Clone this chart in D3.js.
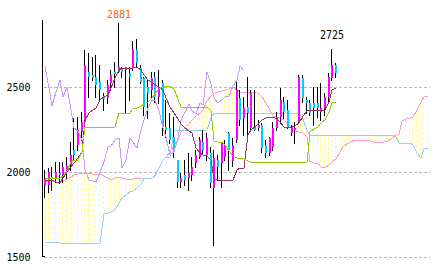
<!DOCTYPE html>
<html>
<head>
<meta charset="utf-8">
<script src="https://cdn.jsdelivr.net/npm/d3@7"></script>
<style>
    body { margin: 0; background: #fff; }
    svg { display: block; }
    .tick-label, .peak-label { font-family: "DejaVu Sans Mono", monospace; font-size: 10px; }
</style>
</head>
<body>
<div id="chart"></div>
<script>
// Daily candles (80 sessions), price in yen
var open = [1925, 1925, 1972, 1961, 1996, 1984, 2002, 2043, 2131, 2161,
    2237, 2296, 2590, 2572, 2560, 2531, 2449, 2437, 2525, 2590,
    2590, 2613, 2602, 2578, 2613, 2719, 2613, 2555, 2502, 2484,
    2560, 2443, 2525, 2266, 2261, 2208, 2072, 1943, 1984, 1966,
    1984, 2055, 2090, 2178, 2102, 2114, 1908, 2072, 2055, 2090,
    2231, 2066, 2190, 2437, 2319, 2384, 2261, 2266, 2261, 2278,
    2161, 2114, 2149, 2261, 2325, 2413, 2366, 2231, 2249, 2296,
    2555, 2425, 2408, 2408, 2408, 2355, 2378, 2443, 2555, 2631];
var high = [2014, 2025, 2031, 2061, 2061, 2061, 2090, 2178, 2319, 2325,
    2355, 2719, 2702, 2678, 2690, 2631, 2466, 2543, 2602, 2649,
    2881, 2619, 2619, 2619, 2772, 2784, 2631, 2560, 2543, 2590,
    2590, 2602, 2543, 2425, 2349, 2325, 2072, 1996, 2072, 2114,
    2090, 2131, 2208, 2249, 2231, 2149, 2131, 2102, 2178, 2190,
    2237, 2200, 2543, 2484, 2443, 2560, 2484, 2484, 2308, 2290,
    2190, 2208, 2296, 2355, 2496, 2443, 2425, 2278, 2296, 2572,
    2572, 2443, 2425, 2502, 2502, 2525, 2466, 2584, 2725, 2643];
var low = [1855, 1884, 1896, 1943, 1937, 1943, 1966, 2014, 2072, 2131,
    2190, 2278, 2443, 2543, 2443, 2425, 2366, 2408, 2484, 2502,
    2590, 2560, 2349, 2425, 2602, 2619, 2525, 2337, 2319, 2437,
    2413, 2408, 2219, 2208, 2172, 2090, 1914, 1914, 1925, 1896,
    1955, 2031, 2084, 2114, 2072, 1914, 1572, 1955, 1914, 2072,
    2014, 2040, 2178, 2278, 2219, 2208, 2249, 2249, 2249, 2119,
    2090, 2102, 2131, 2249, 2290, 2319, 2261, 2219, 2172, 2290,
    2413, 2349, 2337, 2278, 2325, 2308, 2337, 2408, 2543, 2560];
var close = [1961, 2002, 1961, 2002, 1984, 2031, 2037, 2102, 2102, 2249,
    2296, 2625, 2560, 2555, 2513, 2484, 2431, 2513, 2572, 2578,
    2619, 2590, 2619, 2560, 2719, 2643, 2531, 2384, 2466, 2555,
    2443, 2502, 2266, 2249, 2190, 2119, 1943, 1966, 1955, 1996,
    2031, 2102, 2190, 2131, 2202, 1937, 2084, 2031, 2172, 2161,
    2131, 2160, 2484, 2308, 2378, 2349, 2466, 2249, 2278, 2143,
    2114, 2202, 2261, 2325, 2425, 2355, 2266, 2266, 2261, 2560,
    2437, 2408, 2349, 2378, 2378, 2378, 2443, 2560, 2631, 2584];

// Conversion line (tenkan) and base line (kijun)
var tenkan = [1955, 1955, 1955, 1943, 1937, 1966, 2002, 2031, 2055, 2084,
    2119, 2308, 2349, 2366, 2378, 2425, 2443, 2455, 2496, 2555,
    2602, 2613, 2613, 2613, 2613, 2619, 2602, 2572, 2543, 2531,
    2513, 2502, 2484, 2437, 2384, 2349, 2313, 2284, 2261, 2243,
    2231, 2143, 2114, 2102, 2096, 2072, 1961, 1955, 1955, 1955,
    1955, 1955, 2014, 2025, 2025, 2219, 2249, 2266, 2290, 2308,
    2319, 2325, 2325, 2313, 2290, 2266, 2266, 2266, 2272, 2290,
    2331, 2360, 2366, 2366, 2366, 2366, 2366, 2413, 2484, 2496];
var kijun = [1966, 1966, 1966, 1966, 1966, 1978, 2008, 2061, 2072, 2072,
    2119, 2266, 2266, 2266, 2266, 2266, 2266, 2266, 2266, 2266,
    2349, 2349, 2349, 2349, 2372, 2378, 2390, 2402, 2413, 2437,
    2461, 2490, 2502, 2508, 2508, 2490, 2431, 2384, 2384, 2384,
    2384, 2384, 2384, 2384, 2384, 2360, 2184, 2178, 2178, 2161,
    2125, 2096, 2084, 2084, 2078, 2066, 2060, 2060, 2060, 2060,
    2060, 2060, 2060, 2060, 2060, 2060, 2060, 2060, 2060, 2060,
    2060, 2060, 2237, 2255, 2266, 2290, 2308, 2355, 2408, 2413];

// Lagging span, plotted from the first slot
var lagging = [2625, 2496, 2390, 2472, 2543, 2443, 2502, 2366, 2261, 2243,
    2190, 2014, 1955, 1949, 1943, 2002, 2061, 2149, 2155, 2190,
    2202, 2025, 2072, 2202, 2178, 2143, 2249, 2308, 2378, 2425,
    2419, 2360, 2261, 2208, 2102, 2119, 2202, 2308, 2355, 2402,
    2360, 2343, 2408, 2396, 2590, 2519, 2437, 2408, 2425, 2443,
    2449, 2508, 2543, 2625, 2596];

// Leading spans A and B (105 slots, 25 beyond the last candle)
var spanA = [1949, 1949, 1949, 1943, 1943, 1949, 1961, 1972, 1984, 1990,
    1993, 1993, 1993, 1990, 1990, 1990, 1978, 1966, 1955, 1966,
    1972, 1966, 1961, 1961, 1961, 1964, 1961, 1966, 1966, 1966,
    1984, 2025, 2072, 2090, 2119, 2161, 2190, 2237, 2261, 2284,
    2308, 2331, 2349, 2366, 2419, 2449, 2466, 2472, 2478, 2484,
    2490, 2502, 2484, 2475, 2474, 2472, 2472, 2472, 2461, 2443,
    2408, 2366, 2334, 2328, 2319, 2308, 2284, 2261, 2243, 2237,
    2231, 2208, 2066, 2055, 2046, 2034, 2025, 2043, 2061, 2078,
    2119, 2149, 2166, 2178, 2190, 2190, 2190, 2190, 2190, 2178,
    2178, 2178, 2178, 2184, 2196, 2214, 2225, 2302, 2313, 2319,
    2325, 2366, 2413, 2443, 2449];
var spanB = [1590, 1590, 1590, 1590, 1584, 1584, 1584, 1584, 1584, 1584,
    1584, 1584, 1584, 1584, 1584, 1584, 1755, 1761, 1766, 1778,
    1819, 1849, 1866, 1884, 1890, 1908, 1931, 1961, 1966, 1966,
    1978, 2025, 2072, 2090, 2090, 2243, 2249, 2249, 2249, 2249,
    2249, 2249, 2249, 2249, 2249, 2319, 2349, 2349, 2349, 2349,
    2349, 2349, 2349, 2349, 2349, 2349, 2349, 2349, 2349, 2349,
    2349, 2349, 2349, 2349, 2349, 2349, 2349, 2349, 2349, 2349,
    2313, 2249, 2219, 2219, 2219, 2219, 2219, 2219, 2219, 2219,
    2219, 2219, 2219, 2219, 2219, 2219, 2219, 2219, 2219, 2219,
    2219, 2219, 2219, 2219, 2219, 2219, 2172, 2172, 2172, 2172,
    2161, 2114, 2084, 2137, 2143];

var yTicks = [1500, 2000, 2500];
var slotCount = 105;

var width = 434, height = 270;

var svg = d3.select("#chart")
    .append("svg")
    .attr("width", width)
    .attr("height", height);

svg.append("rect")
    .attr("width", width)
    .attr("height", height)
    .attr("fill", "#fff");

var x = d3.scaleLinear().domain([0, slotCount]).range([43, 430]);
var y = d3.scaleLinear().domain([1500, 2500]).range([257.3, 87.3]);

// pixel column of a slot centre
function col(i) {
    return Math.round(x(i + 0.5));
}
function row(v) {
    return Math.round(y(v));
}

// Grid lines
svg.selectAll(".grid")
    .data(yTicks)
    .enter()
    .append("line")
    .attr("class", "grid")
    .attr("x1", 44)
    .attr("x2", 430)
    .attr("y1", function(d) { return row(d) + 0.5; })
    .attr("y2", function(d) { return row(d) + 0.5; })
    .attr("stroke", "#b8b8b8")
    .attr("stroke-dasharray", "3,2")
    .attr("shape-rendering", "crispEdges");

// Cloud shading: dashed yellow verticals between the spans
svg.selectAll(".cloud")
    .data(spanA)
    .enter()
    .append("line")
    .attr("class", "cloud")
    .attr("x1", function(d, i) { return col(i) - 0.5; })
    .attr("x2", function(d, i) { return col(i) - 0.5; })
    .attr("y1", function(d) { return row(d); })
    .attr("y2", function(d, i) { return row(spanB[i]); })
    .attr("stroke", "#ffff80")
    .attr("stroke-dasharray", "3,2")
    .attr("shape-rendering", "crispEdges");

function linePath(data) {
    return d3.line()
        .x(function(d, i) { return col(i); })
        .y(function(d) { return row(d); })(data);
}

function drawLine(data, color) {
    svg.append("path")
        .attr("d", linePath(data))
        .attr("fill", "none")
        .attr("stroke", color)
        .attr("stroke-width", 1)
        .attr("shape-rendering", "crispEdges");
}

drawLine(spanA, "#ff99cc");
drawLine(spanB, "#99ccff");

// Candles
var candles = svg.append("g");

candles.selectAll(".wick")
    .data(close)
    .enter()
    .append("line")
    .attr("class", "wick")
    .attr("x1", function(d, i) { return col(i) - 0.5; })
    .attr("x2", function(d, i) { return col(i) - 0.5; })
    .attr("y1", function(d, i) { return row(high[i]); })
    .attr("y2", function(d, i) { return row(low[i]) + 1; })
    .attr("stroke", "#000")
    .attr("shape-rendering", "crispEdges");

candles.selectAll(".body")
    .data(close)
    .enter()
    .append("rect")
    .attr("class", "body")
    .attr("x", function(d, i) { return col(i) - 1; })
    .attr("width", 2)
    .attr("y", function(d, i) { return row(Math.max(open[i], d)); })
    .attr("height", function(d, i) {
        return Math.max(1, row(Math.min(open[i], d)) - row(Math.max(open[i], d)));
    })
    .attr("fill", function(d, i) { return d >= open[i] ? "#ff00ff" : "#00ccff"; })
    .attr("shape-rendering", "crispEdges");

drawLine(lagging, "#cc99ff");
drawLine(tenkan, "#993366");
drawLine(kijun, "#99cc00");

// Axis
svg.append("line")
    .attr("x1", 42.5).attr("x2", 42.5)
    .attr("y1", 20).attr("y2", 257)
    .attr("stroke", "#000")
    .attr("shape-rendering", "crispEdges");

svg.append("line")
    .attr("x1", 42).attr("x2", 45)
    .attr("y1", 256.5).attr("y2", 256.5)
    .attr("stroke", "#000")
    .attr("shape-rendering", "crispEdges");

svg.selectAll(".tick-label")
    .data(yTicks)
    .enter()
    .append("text")
    .attr("class", "tick-label")
    .attr("x", 30.5)
    .attr("y", function(d) { return row(d) + 3.5; })
    .attr("text-anchor", "end")
    .attr("fill", "#000")
    .text(function(d) { return d; });

// Peak labels: period high (orange) and latest high (black, taller glyphs)
var topIdx = d3.maxIndex(high);
var peaks = [
    { i: topIdx, color: "#ff6600", stretch: 1 },
    { i: high.length - 2, color: "#000", stretch: 1.27 }
];

svg.selectAll(".peak-label")
    .data(peaks)
    .enter()
    .append("text")
    .attr("class", "peak-label")
    .attr("transform", function(d) {
        var ty = Math.max(y(high[d.i]) - 10.5, 17.5);
        return "translate(" + col(d.i) + "," + ty + ") scale(1," + d.stretch + ")";
    })
    .attr("text-anchor", "middle")
    .attr("fill", function(d) { return d.color; })
    .text(function(d) { return high[d.i]; });
</script>
</body>
</html>
